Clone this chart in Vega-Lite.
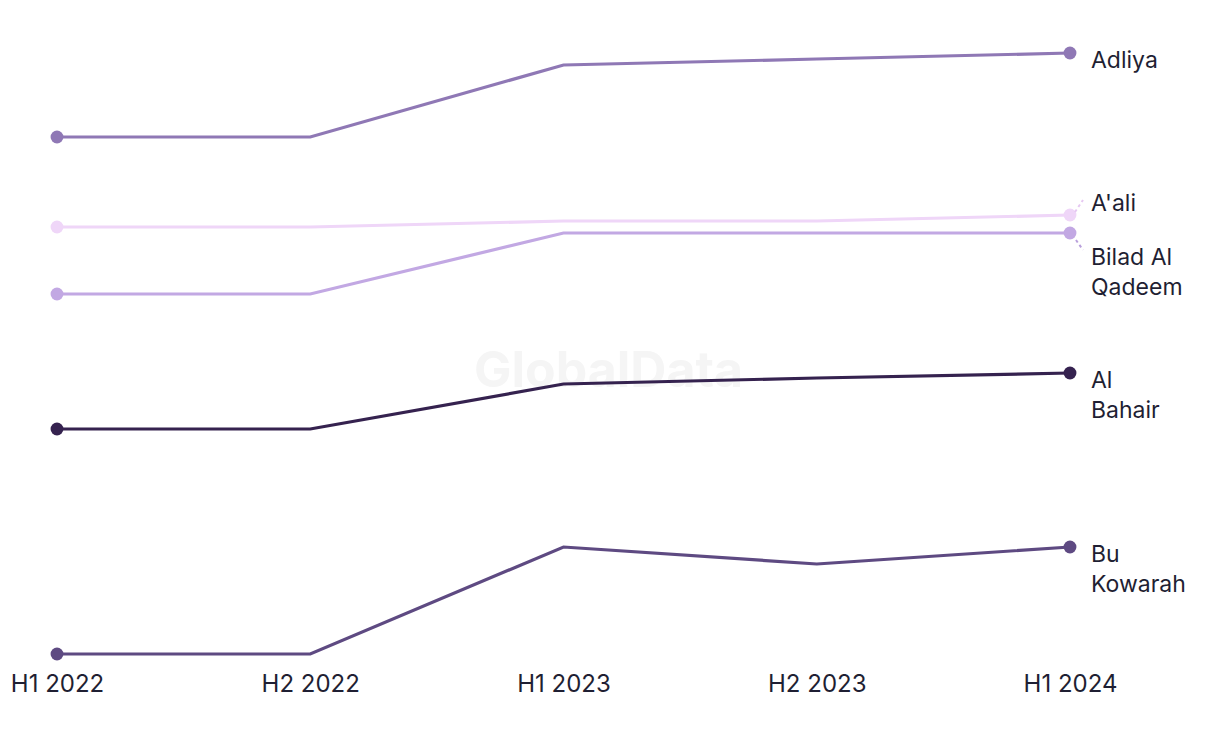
{
  "$schema": "https://vega.github.io/schema/vega-lite/v6.json",
  "width": 1013,
  "height": 614,
  "autosize": "none",
  "padding": {"left": 57, "top": 40, "right": 150, "bottom": 90},
  "background": "white",
  "config": {"view": {"stroke": null}, "font": "Inter"},
  "data": {"values": [
      {"district": "Adliya", "label": "Adliya", "period": "H1 2022", "value": 517},
      {"district": "Adliya", "label": "Adliya", "period": "H2 2022", "value": 517},
      {"district": "Adliya", "label": "Adliya", "period": "H1 2023", "value": 589},
      {"district": "Adliya", "label": "Adliya", "period": "H2 2023", "value": 595},
      {"district": "Adliya", "label": "Adliya", "period": "H1 2024", "value": 601},
      {"district": "A'ali", "label": "A'ali", "period": "H1 2022", "value": 427},
      {"district": "A'ali", "label": "A'ali", "period": "H2 2022", "value": 427},
      {"district": "A'ali", "label": "A'ali", "period": "H1 2023", "value": 433},
      {"district": "A'ali", "label": "A'ali", "period": "H2 2023", "value": 433},
      {"district": "A'ali", "label": "A'ali", "period": "H1 2024", "value": 439},
      {"district": "Bilad Al Qadeem", "label": "Bilad Al\nQadeem", "period": "H1 2022", "value": 360},
      {"district": "Bilad Al Qadeem", "label": "Bilad Al\nQadeem", "period": "H2 2022", "value": 360},
      {"district": "Bilad Al Qadeem", "label": "Bilad Al\nQadeem", "period": "H1 2023", "value": 421},
      {"district": "Bilad Al Qadeem", "label": "Bilad Al\nQadeem", "period": "H2 2023", "value": 421},
      {"district": "Bilad Al Qadeem", "label": "Bilad Al\nQadeem", "period": "H1 2024", "value": 421},
      {"district": "Al Bahair", "label": "Al\nBahair", "period": "H1 2022", "value": 225},
      {"district": "Al Bahair", "label": "Al\nBahair", "period": "H2 2022", "value": 225},
      {"district": "Al Bahair", "label": "Al\nBahair", "period": "H1 2023", "value": 270},
      {"district": "Al Bahair", "label": "Al\nBahair", "period": "H2 2023", "value": 276},
      {"district": "Al Bahair", "label": "Al\nBahair", "period": "H1 2024", "value": 281},
      {"district": "Bu Kowarah", "label": "Bu\nKowarah", "period": "H1 2022", "value": 0},
      {"district": "Bu Kowarah", "label": "Bu\nKowarah", "period": "H2 2022", "value": 0},
      {"district": "Bu Kowarah", "label": "Bu\nKowarah", "period": "H1 2023", "value": 107},
      {"district": "Bu Kowarah", "label": "Bu\nKowarah", "period": "H2 2023", "value": 90},
      {"district": "Bu Kowarah", "label": "Bu\nKowarah", "period": "H1 2024", "value": 107}
  ]},
  "encoding": {
    "x": {
      "field": "period", "type": "ordinal",
      "sort": ["H1 2022", "H2 2022", "H1 2023", "H2 2023", "H1 2024"],
      "scale": {"type": "point", "padding": 0},
      "axis": {"title": null, "labelAngle": 0, "domain": false, "ticks": false, "grid": false, "labelPadding": 18, "labelFontSize": 24, "labelColor": "#1f1f33", "labelFont": "Inter"}
    },
    "y": {"field": "value", "type": "quantitative", "scale": {"domain": [0, 614], "nice": false, "zero": false}, "axis": null}
  },
  "layer": [
    {
      "data": {"values": [{"text": "GlobalData", "period": "H1 2023", "value": 282}]},
      "mark": {"type": "text", "fontSize": 50, "fontWeight": "bold", "color": "#f5f5f5", "align": "center", "baseline": "middle", "dx": 45},
      "encoding": {"text": {"field": "text", "type": "nominal"}}
    },
    {
      "mark": {"type": "line", "strokeWidth": 3.2},
      "encoding": {
        "color": {
          "field": "district", "type": "nominal", "legend": null,
          "scale": {
            "domain": ["Adliya", "A'ali", "Bilad Al Qadeem", "Al Bahair", "Bu Kowarah"],
            "range": ["#8f78b5", "#efd6f8", "#c2a8e3", "#35224f", "#5e4a82"]
          }
        }
      }
    },
    {
      "transform": [{"filter": {"field": "period", "oneOf": ["H1 2022", "H1 2024"]}}],
      "mark": {"type": "circle", "size": 165, "opacity": 1},
      "encoding": {"color": {"field": "district", "type": "nominal", "legend": null}}
    },
    {
      "transform": [{"filter": {"field": "period", "equal": "H1 2024"}}, {"filter": {"field": "district", "equal": "A'ali"}}],
      "mark": {"type": "rule", "strokeWidth": 2, "strokeDash": [3, 3], "color": "#e6c8f2", "xOffset": 5, "x2Offset": 13, "yOffset": -3, "y2Offset": -15},
      "encoding": {"x2": {"field": "period"}, "y2": {"field": "value"}}
    },
    {
      "transform": [{"filter": {"field": "period", "equal": "H1 2024"}}, {"filter": {"field": "district", "equal": "Bilad Al Qadeem"}}],
      "mark": {"type": "rule", "strokeWidth": 2, "strokeDash": [3, 3], "color": "#b9a0dc", "xOffset": 6, "x2Offset": 13, "yOffset": 7, "y2Offset": 17},
      "encoding": {"x2": {"field": "period"}, "y2": {"field": "value"}}
    },
    {
      "transform": [{"filter": {"field": "period", "equal": "H1 2024"}}, {"filter": "datum.district != \"A'ali\" && datum.district != 'Bilad Al Qadeem'"}],
      "mark": {"type": "text", "align": "left", "baseline": "alphabetic", "dx": 21, "dy": 15, "fontSize": 23, "lineHeight": 30, "lineBreak": "\n", "color": "#1f1f33"},
      "encoding": {"text": {"field": "label", "type": "nominal"}}
    },
    {
      "transform": [{"filter": {"field": "period", "equal": "H1 2024"}}, {"filter": {"field": "district", "equal": "A'ali"}}],
      "mark": {"type": "text", "align": "left", "baseline": "alphabetic", "dx": 21, "dy": -4, "fontSize": 23, "lineHeight": 30, "lineBreak": "\n", "color": "#1f1f33"},
      "encoding": {"text": {"field": "label", "type": "nominal"}}
    },
    {
      "transform": [{"filter": {"field": "period", "equal": "H1 2024"}}, {"filter": {"field": "district", "equal": "Bilad Al Qadeem"}}],
      "mark": {"type": "text", "align": "left", "baseline": "alphabetic", "dx": 21, "dy": 32, "fontSize": 23, "lineHeight": 30, "lineBreak": "\n", "color": "#1f1f33"},
      "encoding": {"text": {"field": "label", "type": "nominal"}}
    }
  ]
}
